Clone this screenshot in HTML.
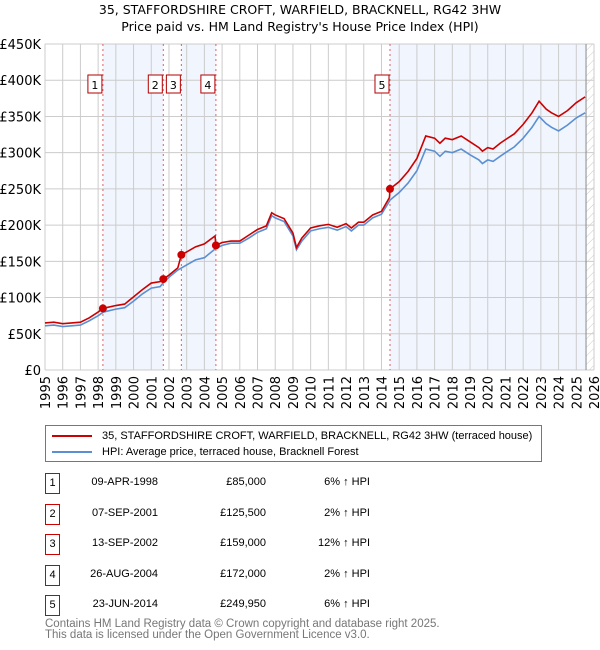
<!DOCTYPE html>
<html><head><meta charset="utf-8"><style>
body{margin:0;background:#fff;font-family:"Liberation Sans","DejaVu Sans",sans-serif}
#wrap{position:relative;width:600px;height:650px;overflow:hidden}
svg text{font-family:"DejaVu Sans","Liberation Sans",sans-serif}
</style></head><body><div id="wrap">
<svg id="chart" width="600" height="650">
<defs><pattern id="hatch" width="6" height="6" patternUnits="userSpaceOnUse" patternTransform="rotate(45)"><line x1="0" y1="0" x2="0" y2="6" stroke="#ccc" stroke-width="1"/></pattern></defs>
<text x="300" y="14" text-anchor="middle" font-size="12.5">35, STAFFORDSHIRE CROFT, WARFIELD, BRACKNELL, RG42 3HW</text>
<text x="300" y="31" text-anchor="middle" font-size="12.5">Price paid vs. HM Land Registry's House Price Index (HPI)</text>
<g id="g"></g>
</svg>
<div style="position:absolute;left:45px;top:425px;width:495px;height:35px;border:1px solid #777;font-size:11px">
<div style="position:absolute;left:6px;top:4px"><span style="display:inline-block;width:40px;height:2px;background:#cc0000;vertical-align:middle;margin-right:10px"></span>35, STAFFORDSHIRE CROFT, WARFIELD, BRACKNELL, RG42 3HW (terraced house)</div>
<div style="position:absolute;left:6px;top:20px"><span style="display:inline-block;width:40px;height:2px;background:#5b8fd4;vertical-align:middle;margin-right:10px"></span>HPI: Average price, terraced house, Bracknell Forest</div>
</div>
<div id="tbl"></div>
<div style="position:absolute;left:45px;top:619px;font-size:11.5px;color:#777;line-height:11px">Contains HM Land Registry data © Crown copyright and database right 2025.<br>This data is licensed under the Open Government Licence v3.0.</div>
</div>
<script>
const hpiDates=[1995,1995.5,1996,1996.5,1997,1997.5,1998,1998.3,1999,1999.5,2000,2000.5,2001,2001.5,2001.7,2002,2002.5,2003,2003.5,2004,2004.6,2005,2005.5,2006,2006.5,2007,2007.5,2007.8,2008,2008.5,2009,2009.2,2009.5,2010,2010.5,2011,2011.5,2012,2012.3,2012.7,2013,2013.5,2014,2014.5,2015,2015.5,2016,2016.5,2017,2017.3,2017.6,2018,2018.5,2019,2019.5,2019.7,2020,2020.3,2020.7,2021,2021.5,2022,2022.5,2022.9,2023.3,2023.6,2024,2024.5,2025,2025.5];
const hpiValues=[61,62,60,61,62,68,75,80,84,86,95,105,113,115,121,128,138,145,152,155,167,172,175,175,182,190,195,213,210,205,185,166,178,192,195,197,193,198,192,200,200,210,215,235,245,258,275,305,302,295,302,300,305,297,290,285,290,288,295,300,308,320,335,350,340,335,330,338,348,355];
const priceDates=[1995,1995.5,1996,1996.5,1997,1997.5,1998,1998.27,1999,1999.5,2000,2000.5,2001,2001.5,2001.68,2002,2002.5,2002.7,2003,2003.5,2004,2004.6,2004.65,2005,2005.5,2006,2006.5,2007,2007.5,2007.8,2008,2008.5,2009,2009.2,2009.5,2010,2010.5,2011,2011.5,2012,2012.3,2012.7,2013,2013.5,2014,2014.45,2014.48,2015,2015.5,2016,2016.5,2017,2017.3,2017.6,2018,2018.5,2019,2019.5,2019.7,2020,2020.3,2020.7,2021,2021.5,2022,2022.5,2022.9,2023.3,2023.6,2024,2024.5,2025,2025.5];
const priceValues=[65,66,64,65,66,72,80,85,89,91,101,111,120,122,125.5,131,141,159,163,170,174,185,172,176,178,178,186,194,199,217,214,209,189,169,182,196,199,201,197,202,196,204,204,214,219,238,249.95,260,274,292,323,320,313,320,318,323,315,307,302,307,305,313,318,326,339,355,371,360,355,350,358,369,377];
const saleLabels=["1","2","3","4","5"];
const saleDates=[1998.27,2001.68,2002.7,2004.65,2014.48];
const saleValues=[85,125.5,159,172,249.95];
const saleText=["09-APR-1998","07-SEP-2001","13-SEP-2002","26-AUG-2004","23-JUN-2014"];
const salePrice=["£85,000","£125,500","£159,000","£172,000","£249,950"];
const salePct=["6%","2%","12%","2%","6%"];
const yTicks=[0,50,100,150,200,250,300,350,400,450];
const yTickLabels=["£0","£50K","£100K","£150K","£200K","£250K","£300K","£350K","£400K","£450K"];
const xTicks=[1995,1996,1997,1998,1999,2000,2001,2002,2003,2004,2005,2006,2007,2008,2009,2010,2011,2012,2013,2014,2015,2016,2017,2018,2019,2020,2021,2022,2023,2024,2025,2026];
const L=45,R=594,T=44,B=370,x0=1995,x1=2026,yMax=450,dataEnd=2025.55;
const X=v=>L+(v-x0)/(x1-x0)*(R-L), Y=v=>B-v/yMax*(B-T);
const NS="http://www.w3.org/2000/svg", g=document.getElementById('g');
function mk(t,a){const e=document.createElementNS(NS,t);for(const k in a)e.setAttribute(k,a[k]);g.appendChild(e);return e;}
// shaded ownership periods
const shadeStarts=[saleDates[0],saleDates[2],saleDates[4]],shadeEnds=[saleDates[1],saleDates[3],dataEnd];
shadeStarts.forEach((s,i)=>{const e=mk('rect',{x:X(s),y:T,width:X(shadeEnds[i])-X(s),height:B-T,fill:'#eef3fc',opacity:0.8});

});
const h=mk('rect',{x:X(dataEnd),y:T,width:R-X(dataEnd),height:B-T,fill:'url(#hatch)'});


yTicks.forEach((v,i)=>{const l=mk('line',{x1:L,x2:R,y1:Y(v),y2:Y(v),stroke:'#ccc'});


const t=mk('text',{x:L-4,y:Y(v)+5,'text-anchor':'end','font-size':13});t.textContent=yTickLabels[i];

});
xTicks.forEach(v=>{const l=mk('line',{x1:X(v),x2:X(v),y1:T,y2:B,stroke:'#ccc'});


const t=mk('text',{x:0,y:0,'text-anchor':'end','font-size':13,transform:`translate(${X(v)+5},${B+6}) rotate(-90)`});t.textContent=v;

});
const ed=mk('line',{x1:X(dataEnd),x2:X(dataEnd),y1:T,y2:B,stroke:'#888'});


saleDates.forEach((d,i)=>{const l=mk('line',{x1:X(d),x2:X(d),y1:T,y2:B,stroke:'#e06060','stroke-dasharray':'2,3'});


const r=mk('rect',{x:X(d)-15,y:75,width:14,height:18,fill:'#fff',stroke:'#b00000'});


const t=mk('text',{x:X(d)-8,y:89,'text-anchor':'middle','font-size':11});t.textContent=saleLabels[i];

});
const p1=mk('polyline',{points:hpiDates.map((d,i)=>X(d)+','+Y(hpiValues[i])).join(' '),fill:'none',stroke:'#5b8fd4','stroke-width':1.6});


const p2=mk('polyline',{points:priceDates.map((d,i)=>X(d)+','+Y(priceValues[i])).join(' '),fill:'none',stroke:'#cc0000','stroke-width':1.6});


saleDates.forEach((d,i)=>{const c=mk('circle',{cx:X(d),cy:Y(saleValues[i]),r:4,fill:'#cc0000'});

});
const tb=document.getElementById('tbl');let html='';
saleLabels.forEach((s,i)=>{const top=473+i*30.5;
html+=`<div style="position:absolute;left:45px;top:${top}px;width:13px;height:19px;border:1px solid #cc0000;font-size:11px;text-align:center;line-height:19px">${s}</div>`+
`<div style="position:absolute;right:${600-158}px;top:${top+3}px;font-size:11px">${saleText[i]}</div>`+
`<div style="position:absolute;right:${600-266}px;top:${top+3}px;font-size:11px">${salePrice[i]}</div>`+
`<div style="position:absolute;right:${600-370}px;top:${top+3}px;font-size:11px">${salePct[i]} ↑ HPI</div>`;});
tb.innerHTML=html;
</script></body></html>
